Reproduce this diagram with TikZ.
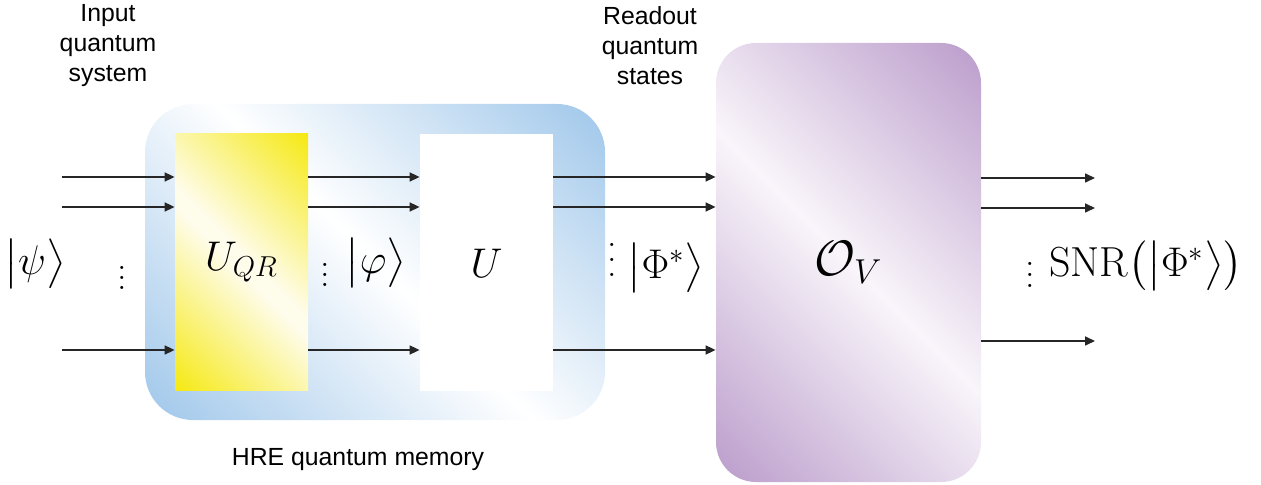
\documentclass[tikz,border=0pt]{standalone}
\usepackage{amsmath}
\usepackage{fontspec}
\usetikzlibrary{arrows.meta}
\newfontfamily\labelfont{Liberation Sans}
\definecolor{memblue}{RGB}{158,198,234}
\definecolor{qryellow}{RGB}{245,232,8}
\definecolor{qrpale}{RGB}{254,252,234}
\definecolor{ovpurple}{RGB}{182,150,200}
\definecolor{ovpale}{RGB}{249,245,250}
\pgfdeclareverticalshading{memshade}{100bp}{color(0bp)=(memblue); color(14bp)=(memblue);
  color(50bp)=(white); color(86bp)=(memblue); color(100bp)=(memblue)}
\pgfdeclareverticalshading{qrshade}{100bp}{color(0bp)=(qryellow); color(13bp)=(qryellow);
  color(48bp)=(qrpale); color(52bp)=(qrpale); color(87bp)=(qryellow); color(100bp)=(qryellow)}
\pgfdeclareverticalshading{ovshade}{100bp}{color(0bp)=(ovpurple); color(12bp)=(ovpurple);
  color(50bp)=(ovpale); color(88bp)=(ovpurple); color(100bp)=(ovpurple)}
\newcommand{\qvdots}[1]{\vbox{\baselineskip=#1\lineskiplimit=0pt\hbox{.}\hbox{.}\hbox{.}}}
\tikzset{
  qmem/.style={x=0.5pt,y=-0.5pt},
  lbl/.style={font=\labelfont\fontsize{12.4}{15}\selectfont,align=center},
  mth/.style={font=\fontsize{20}{24}\selectfont,inner sep=0pt},
  qarrow/.style={-{Triangle[length=5pt,width=4.5pt]},line width=0.8pt,black!85},
  gatebox/.style={minimum width=66.5pt,minimum height=128.5pt,inner sep=0pt},
  dotsnode/.style={font=\fontsize{19}{22}\selectfont,inner sep=0pt}
}

\begin{document}
\begin{tikzpicture}[qmem]
    \useasboundingbox (0,0) rectangle (1261,485);
    % memory region and the three boxes
    \node[minimum width=230pt,minimum height=158pt,rounded corners=24pt,
      shading=memshade,shading angle=-45] (mem) at (375,262) {};
    \node[gatebox,shading=qrshade,shading angle=-45,mth] (uqr) at (241.5,262.5) {$U_{QR}$};
    \node[gatebox,fill=white,mth] (ubox) at (486.5,263) {$U$};
    \node[minimum width=132.5pt,minimum height=219.5pt,rounded corners=20pt,
      shading=ovshade,shading angle=-45,inner sep=0pt,font=\fontsize{24}{28}\selectfont]
      (ov) at (848.5,262.5) {$\mathcal{O}_V$};
    % wires
    \foreach \i/\yy/\yo in {1/177/178,2/207/208,3/350/341} {
      \coordinate (in\i) at (62,\yy);
      \coordinate (out\i) at (1095,\yo);
      \draw[qarrow] (in\i) -- (uqr.west |- in\i);
      \draw[qarrow] (uqr.east |- in\i) -- (ubox.west |- in\i);
      \draw[qarrow] (ubox.east |- in\i) -- (ov.west |- in\i);
      \draw[qarrow] (ov.east |- out\i) -- (out\i);
    }
    % states
    \node[mth] (psi) at (35,264) {$\bigl|\psi\bigr\rangle$};
    \node[dotsnode] (dotsa) at (122,278) {\qvdots{5pt}};
    \node[dotsnode] (dotsb) at (325,275) {\qvdots{5pt}};
    \node[mth] (phi) at (376,263) {$\bigl|\varphi\bigr\rangle$};
    \node[dotsnode] (dotsc) at (612,260) {\qvdots{7.5pt}};
    \node[mth] (phistar) at (666,268) {$\bigl|\Phi^*\bigr\rangle$};
    \node[dotsnode] (dotsd) at (1030,275) {\qvdots{5.5pt}};
    \node[inner sep=0pt,font=\fontsize{21}{25}\selectfont] (snr) at (1146,266)
      {$\mathrm{SNR}\bigl(\bigl|\Phi^*\bigr\rangle\bigr)$};
    % labels
    \node[lbl] (inlbl) at (108,46) {Input\\quantum\\system};
    \node[lbl] (outlbl) at (650,46) {Readout\\quantum\\states};
    \node[lbl] (memlbl) at (358,460) {HRE quantum memory};
\end{tikzpicture}
\end{document}
